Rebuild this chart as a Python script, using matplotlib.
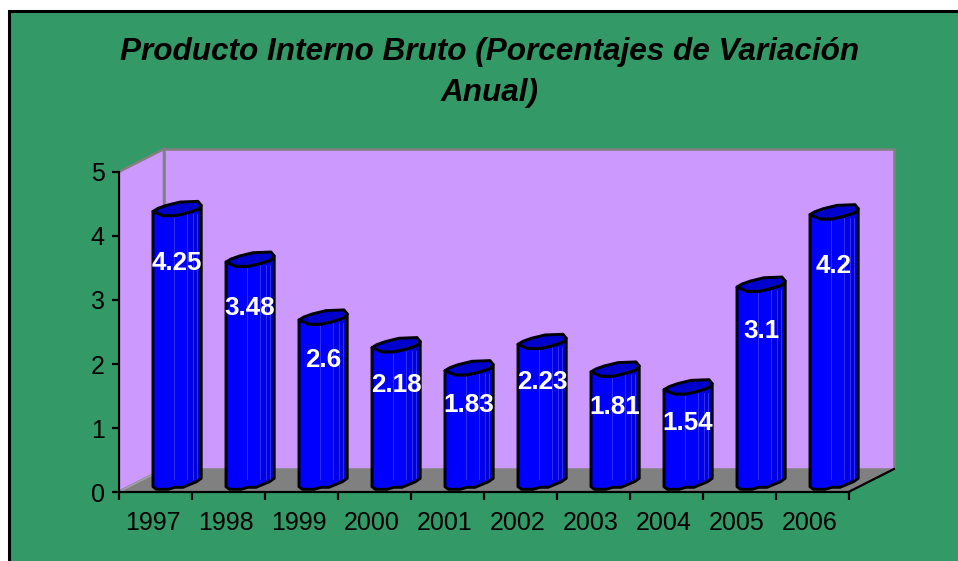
import matplotlib
matplotlib.use("Agg")
import matplotlib.pyplot as plt
from matplotlib.patches import Polygon, Rectangle

years = ["1997", "1998", "1999", "2000", "2001", "2002", "2003", "2004", "2005", "2006"]
values = [4.25, 3.48, 2.6, 2.18, 1.83, 2.23, 1.81, 1.54, 3.1, 4.2]
y_ticks = [0, 1, 2, 3, 4, 5]

W, H = 958, 561
plt.rcParams['font.family'] = ['Liberation Sans', 'DejaVu Sans']
fig = plt.figure(figsize=(W / 100, H / 100), dpi=100, facecolor='white')

# outer chart area
fig.patches.append(Rectangle((8.5 / W, -5 / H), (W - 8.5 + 5) / W, (H - 10.5 + 5) / H,
                             transform=fig.transFigure, facecolor='#339966',
                             edgecolor='black', linewidth=2.2, zorder=-1))

# front plane of the 3D box
L, R, B, T = 118.5, 848.5, 492.0, 172.0
ax = fig.add_axes([L / W, (H - B) / H, (R - L) / W, (B - T) / H])
ax.set_xlim(0, len(years))
ax.set_ylim(0, 5)
ax.patch.set_alpha(0)
ux, uy = (R - L) / len(years), (B - T) / 5
depth_x, depth_y = 45.5 / ux, 23 / uy

# walls and floor
n = len(years)
ax.add_patch(Polygon([(0, 0), (0, 5), (depth_x, 5 + depth_y), (depth_x, depth_y)],
                     facecolor='#CC99FF', edgecolor='#808080', lw=1.8, clip_on=False, zorder=1))
ax.add_patch(Polygon([(depth_x, depth_y), (depth_x, 5 + depth_y), (n + depth_x, 5 + depth_y), (n + depth_x, depth_y)],
                     facecolor='#CC99FF', edgecolor='#808080', lw=1.8, clip_on=False, zorder=1))
ax.add_patch(Polygon([(0, 0), (n, 0), (n + depth_x, depth_y), (depth_x, depth_y)],
                     facecolor='#808080', edgecolor='none', clip_on=False, zorder=2))
ax.plot([n, n + depth_x], [0, depth_y], color='black', lw=1.6, clip_on=False, zorder=2)
ax.plot([0, depth_x], [0, depth_y], color='#A0A0A0', lw=1.2, clip_on=False, zorder=2)

# cylinder outline, pixels relative to the bar's left edge / level (positive = down)
front_top = [(0, 0), (10, 4.3), (22, 4.3), (33.5, 1.7), (45, -2), (48.2, -6)]
back_top = [(48.2, -6), (45, -10), (27, -9.3), (13.5, -6), (5, -3)]
base = [(48.2, -8.4), (43.5, -5), (30, 0.6), (22, 0.6), (15, 2.6), (3.5, 2.6), (0, 0)]
streaks = [21, 33.5, 40, 44]
bands = [(33.5, 40, '#0000E8'), (40, 48.2, '#0000D8')]
base_level = 5.3 / uy
bar_gain = 65.8 / 64
bar_left = 34.5 / ux

for i, v in enumerate(values):
    x0 = i + bar_left
    top = 1 / uy + v * bar_gain
    px = lambda p, lvl: (x0 + p[0] / ux, lvl - p[1] / uy)
    body = [px(p, top) for p in front_top] + [px(p, base_level) for p in base]
    body_patch = Polygon(body, closed=True, facecolor='#0000FF', edgecolor='none', clip_on=False, zorder=3)
    ax.add_patch(body_patch)
    for a, b, c in bands:
        art = ax.fill_between([x0 + a / ux, x0 + b / ux], [top, top], [0, 0],
                              color=c, lw=0, zorder=3.1)
        art.set_clip_path(body_patch)
    for s in streaks:
        ax.plot([x0 + s / ux] * 2, [base_level + 8 / uy, top - 3 / uy], color='#3838FF',
                lw=0.6, zorder=3.2, clip_on=False)
    ax.add_patch(Polygon(body, closed=True, facecolor='none', edgecolor='black', lw=2.1,
                         joinstyle='round', clip_on=False, zorder=3.5))
    cap = [px(p, top) for p in front_top] + [px(p, top) for p in back_top]
    ax.add_patch(Polygon(cap, closed=True, facecolor='#0000CC', edgecolor='black', lw=2.1,
                         joinstyle='round', clip_on=False, zorder=4))
    ax.text(x0 + 24 / ux, v * 0.919 - 0.33, f"{v:g}", color='white', fontsize=18.7, fontweight='bold',
            ha='center', va='center', zorder=5, clip_on=False)

# axes
for s in ('top', 'right'):
    ax.spines[s].set_visible(False)
for s in ('left', 'bottom'):
    ax.spines[s].set_linewidth(1.6)
    ax.spines[s].set_zorder(6)
ax.set_yticks(y_ticks)
ax.tick_params(axis='y', labelsize=18, length=5, width=1.6, pad=5)
ax.set_xticks(range(n + 1))
ax.set_xticklabels([])
ax.tick_params(axis='x', which='major', length=6, width=1.6)
ax.set_xticks([i + 0.47 for i in range(n)], minor=True)
ax.set_xticklabels(years, minor=True, fontsize=18)
ax.tick_params(axis='x', which='minor', length=0, pad=14)

fig.text(490 / W, 1 - 72.5 / H, "Producto Interno Bruto (Porcentajes de Variación\nAnual)",
         ha='center', va='center', fontsize=22.7, fontweight='bold', fontstyle='italic', linespacing=1.47)

fig.savefig("out.png", dpi=100, facecolor=fig.get_facecolor())
